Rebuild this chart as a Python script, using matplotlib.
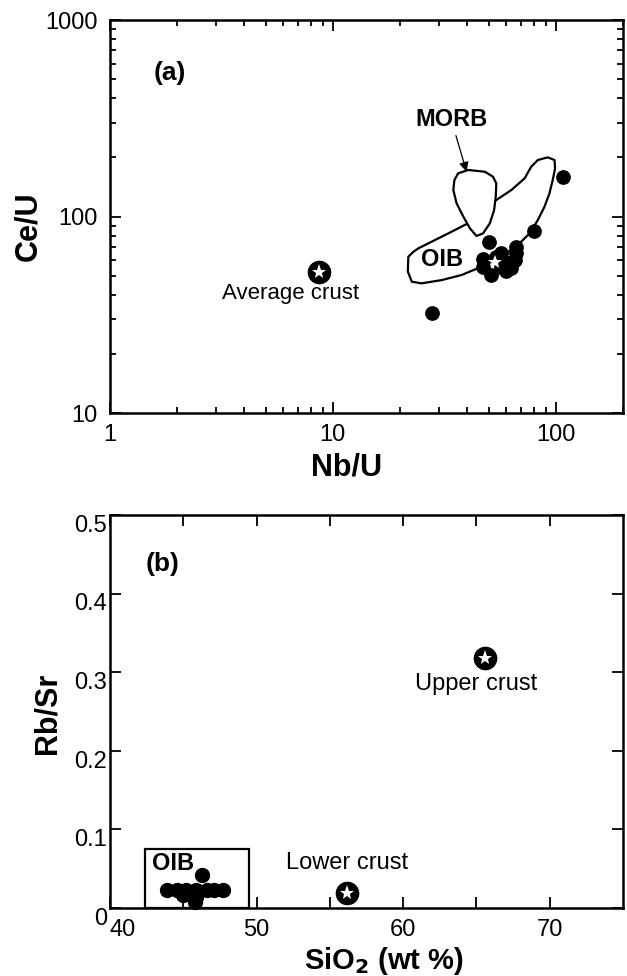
import matplotlib
matplotlib.use("Agg")
import matplotlib.pyplot as plt
from matplotlib.patches import Polygon, Rectangle
from matplotlib.transforms import ScaledTranslation
from matplotlib.ticker import LogLocator, NullFormatter, FixedLocator, FixedFormatter

plt.rcParams['font.family'] = ['Liberation Sans', 'DejaVu Sans']

# ---------------- Panel (a) data ----------------
sample_nbu = [107.5, 79.8, 50.1, 66.5, 47.2, 47.2, 51.4, 57.0, 61.1, 65.4, 66.5, 57.0, 54.0, 60.0, 63.0, 27.8]
sample_ceu = [158.0, 84.4, 74.4, 70.2, 60.5, 55.5, 50.4, 65.0, 57.8, 60.1, 65.0, 55.5, 62.0, 53.0, 55.0, 32.2]

avg_crust_nbu = [8.66]
avg_crust_ceu = [52.4]
oib_mean_nbu = [53.3]
oib_mean_ceu = [58.9]

morb_nbu = [40.5, 48.1, 52.3, 54.1, 53.8, 52.9, 50.6, 47.2, 44.1, 41.2, 38.5, 35.9, 34.7, 35.1, 36.5]
morb_ceu = [172.5, 169.0, 159.4, 147.5, 126.1, 107.9, 92.3, 82.1, 79.6, 87.1, 99.8, 116.7, 136.4, 153.4, 166.0]

oib_nbu = [24.2, 28.7, 34.1, 39.8, 54.1, 63.2, 72.5, 77.6, 83.1, 92.1, 98.7, 99.3, 96.9, 93.7,
           89.0, 83.1, 76.3, 67.6, 57.0, 46.4, 37.8, 30.8, 25.0, 22.6, 21.7, 21.8, 23.0]
oib_ceu = [68.9, 75.9, 83.7, 91.6, 121.3, 136.4, 156.4, 179.3, 193.9, 200.0, 193.9, 175.9, 153.4, 131.2,
           112.2, 96.0, 82.1, 71.6, 62.4, 55.5, 50.4, 47.5, 45.7, 46.6, 52.4, 62.4, 66.2]

# ---------------- Panel (b) data ----------------
sample_sio2 = [43.9, 44.6, 45.2, 45.9, 46.6, 47.1, 47.7, 46.3, 45.8, 45.9, 45.0]
sample_rbsr = [0.023, 0.023, 0.023, 0.023, 0.023, 0.023, 0.023, 0.042, 0.008, 0.0145, 0.0165]

upper_crust_sio2 = [65.6]
upper_crust_rbsr = [0.318]
lower_crust_sio2 = [56.2]
lower_crust_rbsr = [0.0195]

oib_box_sio2 = [42.4, 49.5]
oib_box_rbsr = [0.0, 0.075]

fig = plt.figure(figsize=(6.27, 9.76), dpi=100)
axA = fig.add_axes([0.1754, 0.5768, 0.818, 0.4027])
axB = fig.add_axes([0.1754, 0.0697, 0.818, 0.4027])

tick_fs = 17
lab_fs = 22
txt_fs = 16

def style(ax):
    for s in ax.spines.values():
        s.set_linewidth(1.8)
    ax.tick_params(which='both', direction='in', top=True, right=True, width=1.3)
    ax.tick_params(which='major', length=8, labelsize=tick_fs)
    ax.tick_params(which='minor', length=4.5)

# ----- Panel (a)
axA.set_xscale('log')
axA.set_yscale('log')
axA.set_xlim(1, 200)
axA.set_ylim(10, 1000)
style(axA)
axA.tick_params(axis='y', which='major', pad=9)
axA.tick_params(axis='x', which='major', pad=8)
axA.xaxis.set_major_locator(FixedLocator([1, 10, 100]))
axA.xaxis.set_major_formatter(FixedFormatter(['1', '10', '100']))
axA.yaxis.set_major_locator(FixedLocator([10, 100, 1000]))
axA.yaxis.set_major_formatter(FixedFormatter(['10', '100', '1000']))
axA.xaxis.set_minor_locator(LogLocator(base=10, subs=range(2, 10)))
axA.yaxis.set_minor_locator(LogLocator(base=10, subs=range(2, 10)))
axA.xaxis.set_minor_formatter(NullFormatter())
axA.yaxis.set_minor_formatter(NullFormatter())

oib_poly = Polygon(list(zip(oib_nbu, oib_ceu)), closed=True, facecolor='white',
                   edgecolor='black', linewidth=1.6, joinstyle='round', zorder=2)
axA.add_patch(oib_poly)
morb_poly = Polygon(list(zip(morb_nbu, morb_ceu)), closed=True, facecolor='white',
                    edgecolor='black', linewidth=1.6, joinstyle='round', zorder=3)
axA.add_patch(morb_poly)

axA.plot(sample_nbu, sample_ceu, 'o', color='black', markersize=9.6, zorder=4, linestyle='none')
axA.plot(oib_mean_nbu, oib_mean_ceu, '*', color='white', markersize=10, markeredgewidth=0, zorder=5)
axA.plot(avg_crust_nbu, avg_crust_ceu, 'o', color='black', markersize=16, zorder=4)
axA.plot(avg_crust_nbu, avg_crust_ceu, '*', color='white', markersize=11, markeredgewidth=0, zorder=5)

axA.text(6.43, 40.8, 'Average crust', fontsize=txt_fs, ha='center', va='center')
axA.text(30.8, 60.1, 'OIB', fontsize=17, fontweight='bold', ha='center', va='center', zorder=6)
axA.annotate('MORB', xy=(39.8, 169), xytext=(34.0, 310), fontsize=17, fontweight='bold',
             ha='center', va='center',
             arrowprops=dict(arrowstyle='-|>', color='black', lw=0.9, mutation_scale=14,
                             shrinkA=1, shrinkB=0), zorder=6)
axA.text(1.85, 537, '(a)', fontsize=19, fontweight='bold', ha='center', va='center')

axA.set_xlabel('Nb/U', fontsize=lab_fs, fontweight='bold')
axA.set_ylabel('Ce/U', fontsize=lab_fs, fontweight='bold')
axA.xaxis.set_label_coords(0.462, -0.100)
axA.yaxis.set_label_coords(-0.131, 0.475)

# ----- Panel (b)
axB.set_xlim(40, 75)
axB.set_ylim(0, 0.5)
style(axB)
axB.tick_params(axis='y', which='major', pad=2)
axB.tick_params(axis='x', which='major', pad=8)
axB.set_xticks([40, 45, 50, 55, 60, 65, 70])
axB.set_xticklabels(['40', '', '50', '', '60', '', '70'])
axB.set_yticks([0, 0.1, 0.2, 0.3, 0.4, 0.5])
axB.set_yticklabels(['0', '0.1', '0.2', '0.3', '0.4', '0.5'])
for lbl in axB.get_xticklabels():
    if lbl.get_text() == '40':
        lbl.set_horizontalalignment('left')
shift = ScaledTranslation(0, -6 / 72, fig.dpi_scale_trans)
for lbl in axB.get_yticklabels():
    lbl.set_transform(lbl.get_transform() + shift)

box = Rectangle((oib_box_sio2[0], oib_box_rbsr[0]), oib_box_sio2[1] - oib_box_sio2[0],
                oib_box_rbsr[1] - oib_box_rbsr[0], facecolor='none', edgecolor='black',
                linewidth=1.6, zorder=2)
axB.add_patch(box)
axB.plot(sample_sio2, sample_rbsr, 'o', color='black', markersize=10, zorder=4, linestyle='none',
         clip_on=False)
axB.text(44.3, 0.056, 'OIB', fontsize=17, fontweight='bold', ha='center', va='center')

axB.plot(upper_crust_sio2, upper_crust_rbsr, 'o', color='black', markersize=16, zorder=4)
axB.plot(upper_crust_sio2, upper_crust_rbsr, '*', color='white', markersize=11, markeredgewidth=0, zorder=5)
axB.text(65.0, 0.285, 'Upper crust', fontsize=17, ha='center', va='center')

axB.plot(lower_crust_sio2, lower_crust_rbsr, 'o', color='black', markersize=16, zorder=4)
axB.plot(lower_crust_sio2, lower_crust_rbsr, '*', color='white', markersize=11, markeredgewidth=0, zorder=5)
axB.text(56.2, 0.057, 'Lower crust', fontsize=17, ha='center', va='center')

axB.text(43.6, 0.437, '(b)', fontsize=19, fontweight='bold', ha='center', va='center')

axB.set_xlabel('SiO$_\\mathbf{2}$ (wt %)', fontsize=21, fontweight='bold')
axB.set_ylabel('Rb/Sr', fontsize=lab_fs, fontweight='bold')
axB.xaxis.set_label_coords(0.534, -0.095)
axB.yaxis.set_label_coords(-0.093, 0.496)

fig.savefig('out.png', dpi=100)
